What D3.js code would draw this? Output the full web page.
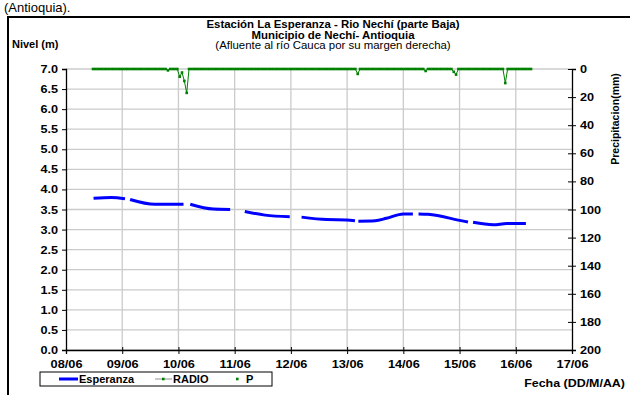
<!DOCTYPE html>
<html><head><meta charset="utf-8">
<script src="https://cdn.jsdelivr.net/npm/d3@7"></script>
<style>body{margin:0;background:#fff;overflow:hidden}svg{display:block;font-family:"Liberation Sans",Arial,sans-serif}</style>
</head><body>
<script>
// ---- data ----
const xTickLabels = ["08/06","09/06","10/06","11/06","12/06","13/06","14/06","15/06","16/06","17/06"];
const leftTicks = [0,0.5,1,1.5,2,2.5,3,3.5,4,4.5,5,5.5,6,6.5,7];
const rightTicks = [0,20,40,60,80,100,120,140,160,180,200];
// level (m) - time in days since 08/06 00:00; null = gap
const levelDays = [0.49,0.81,1.05,null,1.14,1.58,2.09,null,2.21,2.62,2.92,null,3.18,3.54,3.98,null,4.19,4.64,4.99,5.14,null,5.20,5.50,5.70,6.00,6.17,null,6.27,6.44,7.07,7.15,null,7.24,7.60,7.84,8.18];
const levelValues = [3.78,3.80,3.77,null,3.75,3.63,3.63,null,3.63,3.51,3.50,null,3.45,3.36,3.32,null,3.31,3.25,3.24,3.22,null,3.21,3.22,3.28,3.39,3.39,null,3.39,3.38,3.21,3.19,null,3.18,3.12,3.15,3.15];
// RADIO precipitation (mm), hourly from start day
const radioStartDay = 0.48;
const radioValues = [
0,0,0,0,0,0,0,0,0,0,0,0,0,0,0,0,0,0,0,0,0,0,0,0,
0,0,0,0,0,0,0,0,1,0,0,0,0,5.5,2.5,8.5,17,0,0,0,0,0,0,0,
0,0,0,0,0,0,0,0,0,0,0,0,0,0,0,0,0,0,0,0,0,0,0,0,
0,0,0,0,0,0,0,0,0,0,0,0,0,0,0,0,0,0,0,0,0,0,0,0,
0,0,0,0,0,0,0,0,0,0,0,0,0,0,0,0,0,3.5,0,0,0,0,0,0,
0,0,0,0,0,0,0,0,0,0,0,0,0,0,0,0,0,0,0,0,0,0,1.4,0,
0,0,0,0,0,0,0,0,0,0,2,4,0,0,0,0,0,0,0,0,0,0,0,0,
0,0,0,0,0,0,0,0,10,0,0,0,0,0,0,0,0,0,0,0];

// ---- layout ----
const W = 630, H = 395;
const svg = d3.select("body").append("svg").attr("width", W).attr("height", H);
const L = 66, R = 572, T = 69, B = 350;
const x = d3.scaleLinear().domain([0, 9]).range([L, R]);
const y = d3.scaleLinear().domain([0, 7]).range([B, T]);
const y2 = d3.scaleLinear().domain([0, 200]).range([T, B]);

function stretch(sel, k) {
  sel.each(function () {
    const len = this.getComputedTextLength();
    d3.select(this).attr("textLength", len * k).attr("lengthAdjust", "spacingAndGlyphs");
  });
}

// top text
svg.append("text").attr("x", 4).attr("y", 12).attr("font-size", 13).attr("fill", "#000").text("(Antioquia).");
// frame
svg.append("rect").attr("x", 8).attr("y", 17).attr("width", 640).attr("height", 400)
  .attr("fill", "none").attr("stroke", "#000").attr("stroke-width", 2);

// titles
const cx = 333;
const t1 = svg.append("text").attr("x", cx).attr("y", 28).attr("text-anchor", "middle").attr("font-size", 10.2).attr("font-weight", "bold").text("Estación La Esperanza - Rio Nechí  (parte Baja)");
const t2 = svg.append("text").attr("x", cx).attr("y", 38.5).attr("text-anchor", "middle").attr("font-size", 10.2).attr("font-weight", "bold").text("Municipio de Nechí- Antioquia");
const t3 = svg.append("text").attr("x", cx).attr("y", 49).attr("text-anchor", "middle").attr("font-size", 10.2).text("(Afluente al río Cauca por su margen derecha)");
stretch(t1, 1.12); stretch(t2, 1.12); stretch(t3, 1.12);
svg.append("text").attr("x", 12).attr("y", 48).attr("font-size", 11).attr("font-weight", "bold").text("Nivel (m)");

// gridlines
const g = svg.append("g");
g.selectAll(".hg").data(leftTicks).enter().append("line")
  .attr("x1", L).attr("x2", R).attr("y1", d => y(d)).attr("y2", d => y(d))
  .attr("stroke", "#cbcbcb").attr("stroke-width", 1.3);
g.selectAll(".vg").data(d3.range(1, 9)).enter().append("line")
  .attr("x1", d => x(d)).attr("x2", d => x(d)).attr("y1", T).attr("y2", B)
  .attr("stroke", "#cbcbcb").attr("stroke-width", 1.3);

// axes
const axL = d3.axisLeft(y).tickValues(leftTicks).tickFormat(d3.format(".1f")).tickSize(4).tickPadding(4);
const axR = d3.axisRight(y2).tickValues(rightTicks).tickSize(4).tickPadding(4);
const axB = d3.axisBottom(x).tickValues(d3.range(0, 10)).tickFormat((d, i) => xTickLabels[i]).tickSize(4).tickPadding(4);
function styleAx(sel) {
  sel.select(".domain").attr("stroke", "#000").attr("stroke-width", 1.3);
  sel.selectAll(".tick line").attr("stroke", "#000").attr("stroke-width", 1);
  sel.selectAll("text").attr("font-size", 11).attr("font-weight", "bold").attr("fill", "#000")
    .attr("font-family", '"Liberation Sans",Arial,sans-serif');
}
const gl = svg.append("g").attr("transform", `translate(${L},0)`).call(axL).call(styleAx);
const gr = svg.append("g").attr("transform", `translate(${R},0)`).call(axR).call(styleAx);
gr.selectAll(".tick line").attr("x1", -4);
const gb = svg.append("g").attr("transform", `translate(0,${B})`).call(axB).call(styleAx);
gb.selectAll(".tick line").attr("y1", -3);
gb.selectAll("text").attr("dy", "0.95em");
stretch(gl.selectAll("text"), 1.15);
stretch(gr.selectAll("text"), 1.15);
stretch(gb.selectAll("text"), 1.16);

// axis titles
svg.append("text").attr("transform", `translate(619,119) rotate(-90)`).attr("text-anchor", "middle")
  .attr("font-size", 10.5).attr("font-weight", "bold").text("Precipitacion(mm)");
const fe = svg.append("text").attr("x", 625).attr("y", 387).attr("text-anchor", "end")
  .attr("font-size", 11).attr("font-weight", "bold").text("Fecha (DD/M/AA)");
stretch(fe, 1.13);

// level line
const lvl = levelDays.map((d, i) => ({ d, v: levelValues[i] }));
svg.append("path").datum(lvl)
  .attr("d", d3.line().defined(p => p.v !== null).x(p => x(p.d)).y(p => y(p.v)).curve(d3.curveMonotoneX))
  .attr("fill", "none").attr("stroke", "#0000ff").attr("stroke-width", 3);

// radio series
const rad = radioValues.map((v, i) => ({ d: radioStartDay + i / 24, v }));
svg.append("path").datum(rad)
  .attr("d", d3.line().x(p => x(p.d)).y(p => y2(p.v)))
  .attr("fill", "none").attr("stroke", "#008000").attr("stroke-width", 1);
svg.selectAll(".rm").data(rad).enter().append("rect")
  .attr("x", p => x(p.d) - 1.3).attr("y", p => y2(p.v) - 1.3).attr("width", 2.6).attr("height", 2.6)
  .attr("fill", "#008000");

// legend
const lg = svg.append("g");
lg.append("rect").attr("x", 40).attr("y", 372).attr("width", 232).attr("height", 14)
  .attr("fill", "#fff").attr("stroke", "#000").attr("stroke-width", 1);
lg.append("line").attr("x1", 59).attr("x2", 78).attr("y1", 379).attr("y2", 379).attr("stroke", "#0000ff").attr("stroke-width", 3);
lg.append("text").attr("x", 79).attr("y", 383).attr("font-size", 11).attr("font-weight", "bold").text("Esperanza");
lg.append("line").attr("x1", 155).attr("x2", 172).attr("y1", 379).attr("y2", 379).attr("stroke", "#909090").attr("stroke-width", 1);
lg.append("rect").attr("x", 162).attr("y", 377.7).attr("width", 2.6).attr("height", 2.6).attr("fill", "#008000");
lg.append("text").attr("x", 173).attr("y", 383).attr("font-size", 11).attr("font-weight", "bold").text("RADIO");
lg.append("rect").attr("x", 236).attr("y", 377.7).attr("width", 2.6).attr("height", 2.6).attr("fill", "#008000");
lg.append("text").attr("x", 246).attr("y", 383).attr("font-size", 11).attr("font-weight", "bold").text("P");
</script>
</body></html>
